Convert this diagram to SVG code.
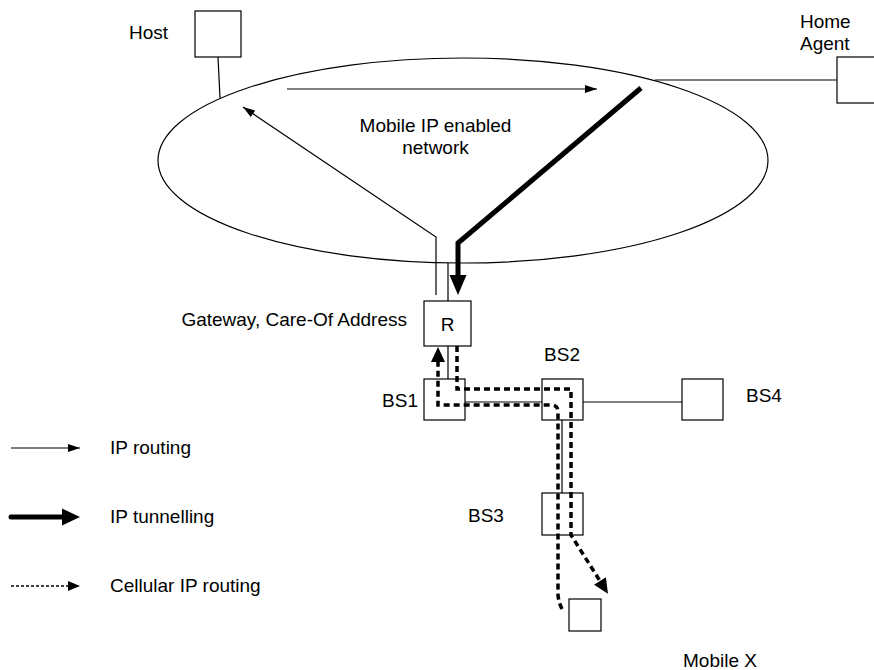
<svg xmlns="http://www.w3.org/2000/svg" width="874" height="670" viewBox="0 0 874 670">
<style>
text{font-family:"Liberation Sans",Arial,sans-serif;font-size:19px;fill:#000}
.box{fill:#fff;stroke:#000;stroke-width:1.2}
.ln{fill:none;stroke:#000;stroke-width:1.2}
.thin{fill:none;stroke:#000;stroke-width:1.2}
.thick{fill:none;stroke:#000;stroke-width:5;stroke-linejoin:miter}
.dash{fill:none;stroke:#000;stroke-width:3.5;stroke-dasharray:6 4}
.ldash{fill:none;stroke:#000;stroke-width:1.5;stroke-dasharray:3 2}
</style>
<defs>
<marker id="ah" markerUnits="userSpaceOnUse" markerWidth="12" markerHeight="8" refX="12" refY="4" orient="auto" overflow="visible"><path d="M0,0 L12,4 L0,8 z" fill="#000"/></marker>
<marker id="ahT" markerUnits="userSpaceOnUse" markerWidth="20" markerHeight="17" refX="0" refY="8.5" orient="auto" overflow="visible"><path d="M0,0 L20,8.5 L0,17 z" fill="#000"/></marker>
<marker id="ahD" markerUnits="userSpaceOnUse" markerWidth="15" markerHeight="14" refX="0" refY="7" orient="auto" overflow="visible"><path d="M0,0 L15,7 L0,14 z" fill="#000"/></marker>
</defs>

<g id="network">
<ellipse cx="463" cy="160.5" rx="305" ry="102.5" class="ln"/>
<text x="435.5" y="132" text-anchor="middle">Mobile IP enabled</text>
<text x="435.5" y="154" text-anchor="middle">network</text>
</g>

<g id="host">
<rect class="box" x="195" y="11" width="46" height="46"/>
<text x="129" y="39">Host</text>
</g>

<g id="home-agent">
<rect class="box" x="837" y="57" width="46" height="46"/>
<text x="800" y="28">Home</text>
<text x="800" y="50">Agent</text>
</g>

<g id="router">
<rect class="box" x="424" y="301" width="47" height="45"/>
<text x="447.5" y="331" text-anchor="middle">R</text>
<text x="407" y="326" text-anchor="end">Gateway, Care-Of Address</text>
</g>

<g id="bs1">
<rect class="box" x="424" y="379" width="41" height="41"/>
<text x="418" y="407" text-anchor="end">BS1</text>
</g>

<g id="bs2">
<rect class="box" x="542" y="379" width="41" height="41"/>
<text x="562" y="361" text-anchor="middle">BS2</text>
</g>

<g id="bs4">
<rect class="box" x="682" y="379" width="41" height="41"/>
<text x="746" y="402">BS4</text>
</g>

<g id="bs3">
<rect class="box" x="542" y="493" width="41" height="42"/>
<text x="468" y="522">BS3</text>
</g>

<g id="mobile">
<rect class="box" x="569" y="599" width="32" height="32"/>
<text x="683" y="667">Mobile X</text>
</g>

<g id="connectors">
<line class="ln" x1="218" y1="57" x2="220" y2="98"/>
<line class="ln" x1="655" y1="80" x2="837" y2="80"/>
<line class="ln" x1="448" y1="263" x2="448" y2="301"/>
<line class="ln" x1="448" y1="346" x2="448" y2="379"/>
<line class="ln" x1="465" y1="402" x2="542" y2="402"/>
<line class="ln" x1="583" y1="402" x2="682" y2="402"/>
<line class="ln" x1="562" y1="420" x2="562" y2="493"/>

<line class="thin" x1="287" y1="89" x2="597" y2="89" marker-end="url(#ah)"/>
<polyline class="thin" points="436,295 436,237 243,107" marker-end="url(#ah)"/>

<polyline class="thick" points="641,88 458,243 458,275" marker-end="url(#ahT)"/>

<path class="dash" d="M457,346 L457,389 L571,389 L571,535 L600,581" marker-end="url(#ahD)"/>
<path class="dash" d="M562,609 Q557,599 558,588 L558,412 Q558,405 551,405 L438,405 L438,362" marker-end="url(#ahD)"/>
</g>

<g id="legend">
<line class="thin" x1="11" y1="448" x2="80" y2="448" marker-end="url(#ah)"/>
<text x="110" y="454">IP routing</text>
<line x1="11" y1="517" x2="62" y2="517" stroke="#000" stroke-width="5" stroke-linecap="round"/>
<path d="M62,508.5 L80,517 L62,525.5 z" fill="#000"/>
<text x="110" y="523">IP tunnelling</text>
<line class="ldash" x1="11" y1="586" x2="68" y2="586"/>
<path d="M68,581 L80,586 L68,591 z" fill="#000"/>
<text x="110" y="592">Cellular IP routing</text>
</g>
</svg>
